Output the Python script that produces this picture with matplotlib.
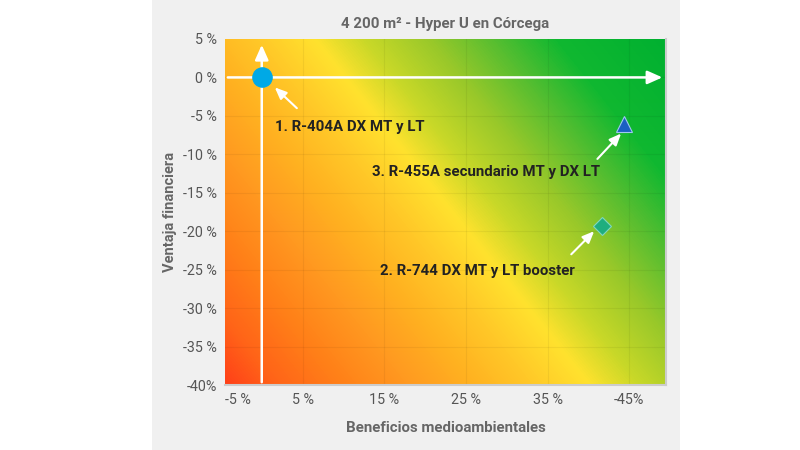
import numpy as np
import matplotlib
matplotlib.use("Agg")
import matplotlib.pyplot as plt
from matplotlib.colors import LinearSegmentedColormap
from matplotlib.patches import Rectangle

plt.rcParams['font.family'] = ['Roboto', 'DejaVu Sans']

# data
labels = ["1. R-404A DX MT y LT", "2. R-744 DX MT y LT booster", "3. R-455A secundario MT y DX LT"]
env_benefit = [0.0, 41.7, 44.3]          # x, %
fin_advantage = [0.0, -19.3, -6.1]       # y, %
markers = ["o", "D", "^"]
colors = ["#00a9e6", "#1fae7e", "#1a60c2"]
sizes = [14, 9, 12]
label_pos = [(10.8, -6.4), (26.4, -25.2), (27.5, -12.3)]
arrow_tail = [(4.3, -4.0), (37.9, -23.0), (41.1, -10.6)]
arrow_head = [(1.6, -1.3), (40.7, -20.0), (44.0, -7.3)]

x_ticks = [-4.5, 5, 15, 25, 35, 45]
x_tick_labels = ["-5 %", "5 %", "15 %", "25 %", "35 %", "-45%"]
y_ticks = [5, 0, -5, -10, -15, -20, -25, -30, -35, -40]
y_tick_labels = ["5 %", "0 %", "-5 %", "-10 %", "-15 %", "-20 %", "-25 %", "-30 %", "-35 %", "-40%"]

fig = plt.figure(figsize=(8, 4.5), dpi=100)
fig.patch.set_facecolor("white")
fig.patches.append(Rectangle((0.19, 0), 0.66, 1, transform=fig.transFigure,
                             facecolor="#f0f0f0", edgecolor="none", zorder=-10))

ax = fig.add_axes([0.28125, 0.1444, 0.55125, 0.769])
ax.set_xlim(-4.5, 49.5)
ax.set_ylim(-40, 5)

# diagonal red -> yellow -> green background (built in pixel space of the axes)
W, H = 441, 345
px, py = np.meshgrid(np.arange(W), np.arange(H))
d = px - 91 - 0.8 * py
cmap = LinearSegmentedColormap.from_list("bg", [
    (0.000, "#ff4018"),
    (0.072, "#ff6418"),
    (0.162, "#ff8018"),
    (0.251, "#ff9820"),
    (0.340, "#ffb020"),
    (0.428, "#ffc828"),
    (0.509, "#ffe22e"),
    (0.579, "#c8d828"),
    (0.671, "#98c82a"),
    (0.757, "#58be30"),
    (0.847, "#10b830"),
    (1.000, "#00b030"),
])
ax.imshow(d, cmap=cmap, vmin=-367, vmax=350, extent=(-4.5, 49.5, -40, 5),
          aspect="auto", origin="upper", zorder=0, interpolation="bilinear")

for xv in x_ticks[1:]:
    ax.axvline(xv, color="black", alpha=0.05, lw=0.8, zorder=1)
for yv in y_ticks[1:-1]:
    ax.axhline(yv, color="black", alpha=0.05, lw=0.8, zorder=1)

# white axis arrows through the origin
ax.annotate("", xy=(0, 4.6), xytext=(0, -40), zorder=3,
            arrowprops=dict(arrowstyle="-|>,head_length=0.9,head_width=0.4", color="white", lw=1.8))
ax.annotate("", xy=(49.4, 0), xytext=(-4.5, 0), zorder=3,
            arrowprops=dict(arrowstyle="-|>,head_length=0.9,head_width=0.4", color="white", lw=1.8))

edge_colors = ["#00a9e6", "#7fd6c0", "#9fc8f0"]
for x, y, m, c, s, ec in zip(env_benefit, fin_advantage, markers, colors, sizes, edge_colors):
    ax.plot(x, y, marker=m, color=c, markersize=s, markeredgecolor=ec,
            markeredgewidth=0.8, zorder=5, clip_on=False)

for lab, lp, tail, head in zip(labels, label_pos, arrow_tail, arrow_head):
    ax.text(lp[0], lp[1], lab, ha="center", va="center", fontsize=10.8,
            fontweight="bold", color="#222222", zorder=6)
    ax.annotate("", xy=head, xytext=tail, zorder=4,
                arrowprops=dict(arrowstyle="-|>,head_length=0.7,head_width=0.3",
                                color="white", lw=1.5, shrinkA=0, shrinkB=0))

ax.set_xticks(x_ticks)
ax.set_xticklabels(x_tick_labels)
ax.get_xticklabels()[0].set_horizontalalignment("left")
ax.set_yticks(y_ticks)
ax.set_yticklabels(y_tick_labels)
ax.tick_params(length=0, labelsize=10.3, labelcolor="#555555", pad=6)

for side in ["top", "left"]:
    ax.spines[side].set_visible(False)
for side in ["bottom", "right"]:
    ax.spines[side].set_color("#cccccc")
    ax.spines[side].set_linewidth(1.5)

ax.set_title("4 200 m² - Hyper U en Córcega", fontsize=10.8, fontweight="bold",
             color="#666666", pad=8)
ax.set_xlabel("Beneficios medioambientales", fontsize=10.8, fontweight="bold",
              color="#666666", labelpad=10)
ax.set_ylabel("Ventaja financiera", fontsize=10.5, fontweight="bold",
              color="#666666", labelpad=4)

fig.savefig("out.png", dpi=100)
